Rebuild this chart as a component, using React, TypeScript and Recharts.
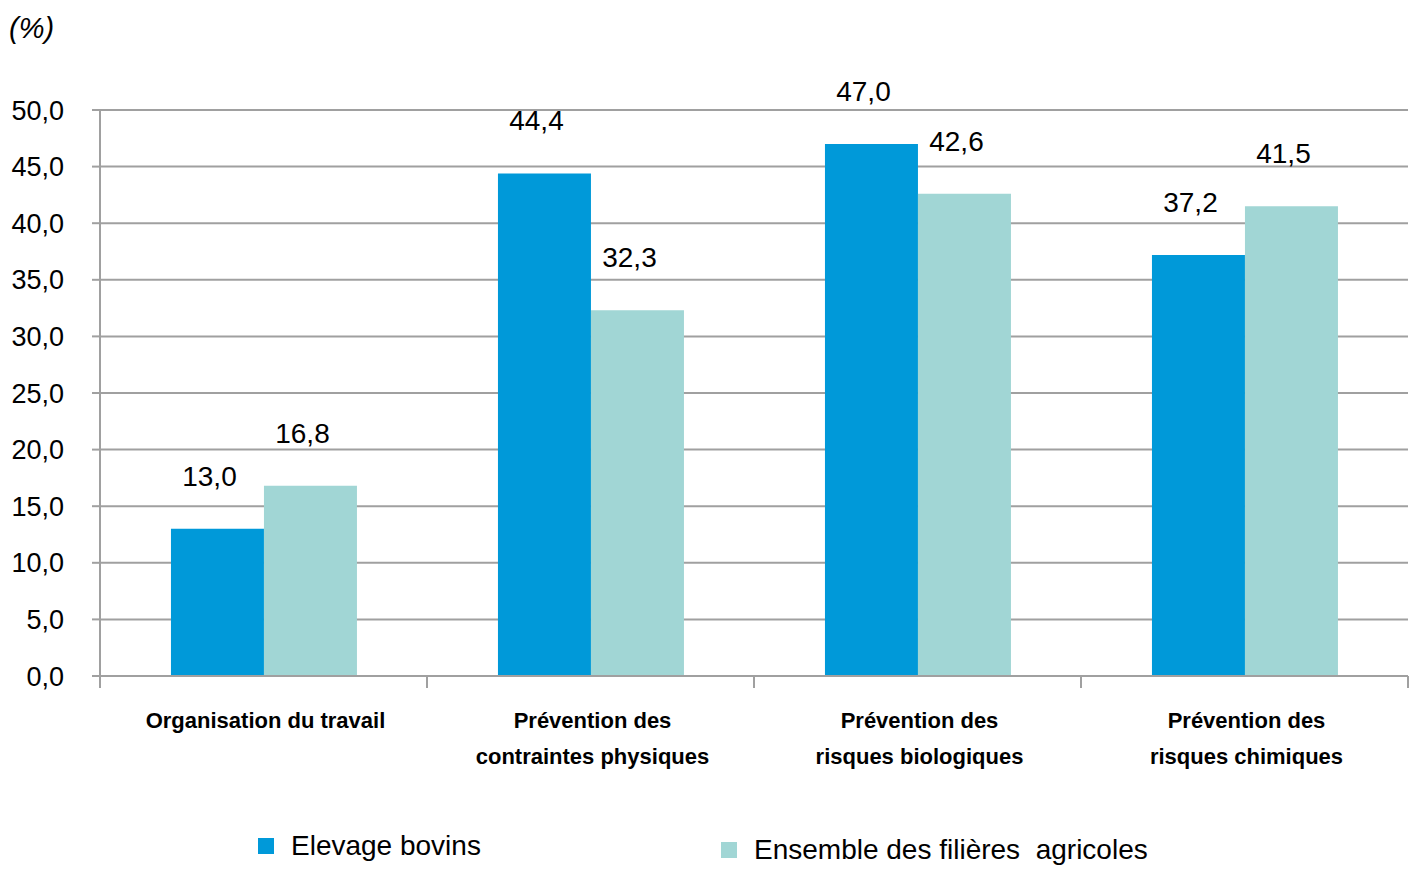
import React from 'react';
import {
  BarChart,
  Bar,
  XAxis,
  YAxis,
  CartesianGrid,
  Legend,
  LabelList,
} from 'recharts';

const categories = [
  ['Organisation du travail'],
  ['Prévention des', 'contraintes physiques'],
  ['Prévention des', 'risques biologiques'],
  ['Prévention des', 'risques chimiques'],
];
const elevageBovins = [13.0, 44.4, 47.0, 37.2];
const ensembleFilieres = [16.8, 32.3, 42.6, 41.5];
const yTicks = [0, 5, 10, 15, 20, 25, 30, 35, 40, 45, 50];

const W = 1414;
const H = 869;
const X_AXIS_H = 30;
const M = { top: 110, right: 6, bottom: 193 - X_AXIS_H, left: 0 };
const AXIS_W = 100;
const BAND = (W - M.right - AXIS_W) / categories.length;
const GRAY = '#A0A0A0';
const FONT = 'Liberation Sans, Arial, sans-serif';

const data = categories.map((lines, i) => ({
  name: lines.join(' '),
  lines,
  bovins: elevageBovins[i],
  ensemble: ensembleFilieres[i],
}));

const fmt = (v: number) => v.toFixed(1).replace('.', ',');

function CategoryTick(props: any) {
  const { x, y, index } = props;
  const lines: string[] = data[index].lines;
  const left = x - BAND / 2;
  const right = x + BAND / 2;
  return (
    <g>
      <line x1={left} y1={y} x2={left} y2={y + 12} stroke={GRAY} strokeWidth={2} />
      {index === data.length - 1 && (
        <line x1={right} y1={y} x2={right} y2={y + 12} stroke={GRAY} strokeWidth={2} />
      )}
      {lines.map((l, k) => (
        <text
          key={k}
          x={x + 2}
          y={y + 52 + k * 36}
          textAnchor="middle"
          fontFamily={FONT}
          fontWeight="bold"
          fontSize={22}
          fill="#000"
        >
          {l}
        </text>
      ))}
    </g>
  );
}

function ValueLabel(props: any) {
  const { x, y, width, value } = props;
  return (
    <text
      x={x + width / 2 - 8}
      y={y - 43}
      textAnchor="middle"
      fontFamily={FONT}
      fontSize={28}
      fill="#000"
    >
      {fmt(value)}
    </text>
  );
}

function LegendContent(props: any) {
  const items = props.payload || [];
  const pos = [
    { left: 258, top: 0 },
    { left: 721, top: 4 },
  ];
  return (
    <div style={{ position: 'relative', width: W, height: 36 }}>
      {items.map((it: any, i: number) => (
        <div
          key={i}
          style={{
            position: 'absolute',
            left: pos[i].left,
            top: pos[i].top,
            display: 'flex',
            alignItems: 'center',
            fontFamily: FONT,
            fontSize: 28,
            lineHeight: '30px',
            color: '#000',
            whiteSpace: 'pre',
          }}
        >
          <span
            style={{
              display: 'inline-block',
              width: 16,
              height: 16,
              background: it.color,
              marginRight: 17,
            }}
          />
          {it.value}
        </div>
      ))}
    </div>
  );
}

export default function App() {
  return (
    <div style={{ position: 'absolute', left: 0, top: 0, width: W, height: H, overflow: 'hidden', background: '#fff' }}>
      <div
        style={{
          position: 'absolute',
          left: 9,
          top: 12,
          fontFamily: FONT,
          fontStyle: 'italic',
          fontSize: 29,
          color: '#000',
        }}
      >
        (%)
      </div>
      <BarChart
        width={W}
        height={H}
        data={data}
        margin={M}
        barCategoryGap="21.7%"
        barGap={0}
      >
        <CartesianGrid vertical={false} stroke={GRAY} strokeWidth={2} />
        <XAxis
          dataKey="name"
          height={X_AXIS_H}
          axisLine={{ stroke: GRAY, strokeWidth: 2 }}
          tickLine={false}
          tickSize={0}
          tickMargin={0}
          interval={0}
          tick={<CategoryTick />}
        />
        <YAxis
          width={AXIS_W}
          domain={[0, 50]}
          ticks={yTicks}
          interval={0}
          tickFormatter={fmt}
          axisLine={{ stroke: GRAY, strokeWidth: 2 }}
          tickLine={{ stroke: GRAY, strokeWidth: 2 }}
          tickSize={8}
          tickMargin={28}
          tick={{ fill: '#000', fontSize: 27, fontFamily: FONT }}
        />
        <Legend
          layout="vertical"
          align="center"
          verticalAlign="middle"
          wrapperStyle={{ position: 'absolute', left: 0, top: 831, width: W }}
          content={<LegendContent />}
        />
        <Bar dataKey="bovins" name="Elevage bovins" fill="#0099D9" isAnimationActive={false}>
          <LabelList dataKey="bovins" content={<ValueLabel />} />
        </Bar>
        <Bar dataKey="ensemble" name="Ensemble des filières  agricoles" fill="#A1D6D5" isAnimationActive={false}>
          <LabelList dataKey="ensemble" content={<ValueLabel />} />
        </Bar>
      </BarChart>
    </div>
  );
}
